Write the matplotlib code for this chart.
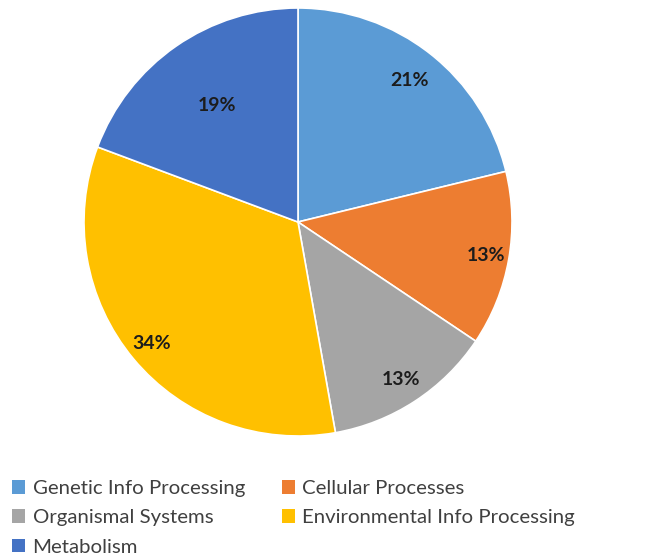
import numpy as np
import matplotlib
matplotlib.use("Agg")
import matplotlib.pyplot as plt
from matplotlib.patches import Patch

categories = ["Genetic Info Processing", "Cellular Processes", "Organismal Systems",
              "Environmental Info Processing", "Metabolism"]
values = [21.2, 13.2, 12.8, 33.5, 19.3]
colors = ["#5B9BD5", "#ED7D31", "#A5A5A5", "#FFC000", "#4472C4"]
label_dist = [0.84, 0.89, 0.88, 0.89, 0.66]

plt.rcParams['font.family'] = ['Lato', 'DejaVu Sans']

W, H = 662, 556
fig = plt.figure(figsize=(W / 100, H / 100), dpi=100)
cx, cy, r = 298, 222, 214
ax = fig.add_axes([(cx - r) / W, (H - cy - r) / H, 2 * r / W, 2 * r / H])
wedges, _ = ax.pie(values, colors=colors, startangle=90, counterclock=False,
                   radius=1, wedgeprops=dict(edgecolor="white", linewidth=1.2))
ax.set_xlim(-1, 1)
ax.set_ylim(-1, 1)
ax.set_aspect("equal")
ax.axis("off")

total = sum(values)
for w, v, d in zip(wedges, values, label_dist):
    ang = np.deg2rad((w.theta1 + w.theta2) / 2)
    pct = int(v / total * 100 + 0.5)
    ax.text(d * np.cos(ang), d * np.sin(ang), f"{pct}%", ha="center", va="center",
            fontsize=14, fontweight="bold", color="#1c1c1c")

order = [0, 2, 4, 1, 3]
handles = [Patch(facecolor=colors[i], edgecolor="none") for i in order]
labels = [categories[i] for i in order]
fig.legend(handles, labels, ncol=2, loc="upper left", bbox_to_anchor=(4 / W, 1 - 472 / H),
           frameon=False, fontsize=14.7, handlelength=0.65, handleheight=0.65,
           handletextpad=0.35, columnspacing=1.8, labelspacing=0.6, borderaxespad=0,
           labelcolor="#404040")

fig.savefig("out.png", dpi=100, facecolor="white")
